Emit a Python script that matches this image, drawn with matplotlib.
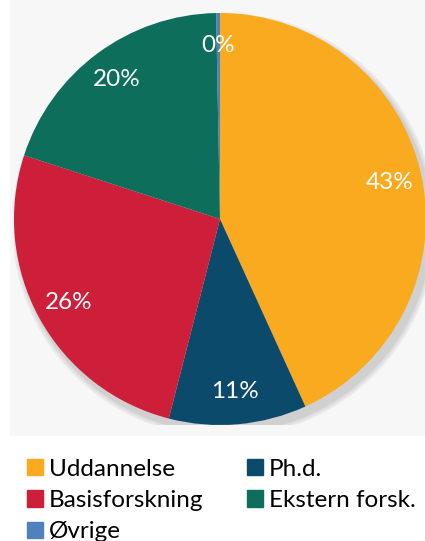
import matplotlib
matplotlib.use("Agg")
import matplotlib.pyplot as plt
from matplotlib.patches import Patch, Rectangle, Circle

plt.rcParams['font.family'] = ['Lato', 'DejaVu Sans']

# share of budget, clockwise from 12 o'clock
labels = ["Uddannelse", "Ph.d.", "Basisforskning", "Ekstern forsk.", "Øvrige"]
values = [43.2, 10.8, 26.0, 19.7, 0.3]
colors = ["#FAAA1E", "#0C4A6C", "#CD1F3A", "#0E6E5C", "#4F81BD"]

fig = plt.figure(figsize=(4.25, 5.41), dpi=100)

# light panel behind the pie
panel = Rectangle((10 / 425, 1 - 435 / 541), 415 / 425, 435 / 541,
                  transform=fig.transFigure, color="#f7f7f7", zorder=-10)
fig.add_artist(panel)

ax = fig.add_axes([14 / 425, 1 - 425 / 541, 412 / 425, 412 / 541])
ax.set_facecolor("none")

# soft shadow under the pie
for i, a in enumerate([0.05, 0.05, 0.06]):
    ax.add_patch(Circle((0.02, -0.03), 1.0 + 0.01 * (3 - i), color="black",
                        alpha=a, lw=0, zorder=0))

wedges, texts, autotexts = ax.pie(
    values, colors=colors, startangle=90, counterclock=False,
    autopct=lambda p: f"{p:.0f}%", pctdistance=0.84,
    wedgeprops=dict(linewidth=0),
    textprops=dict(color="white", fontsize=17.5))
for w in wedges:
    w.set_zorder(2)
for t in autotexts:
    t.set_zorder(3)

ax.set_xlim(-1, 1)
ax.set_ylim(-1, 1)
ax.set_aspect("equal")
ax.axis("off")

# legend: row-major in the picture, so feed column-major order
order = [0, 2, 4, 1, 3]
handles = [Patch(color=colors[i], label=labels[i]) for i in order]
fig.legend(handles=handles, loc="upper left", bbox_to_anchor=(0.064, 0.152),
           ncol=2, frameon=False, fontsize=17.5, handlelength=0.65, handleheight=0.65,
           handletextpad=0.25, labelspacing=0.42, columnspacing=1.8,
           borderaxespad=0, borderpad=0)

fig.savefig("out.png", dpi=100)
